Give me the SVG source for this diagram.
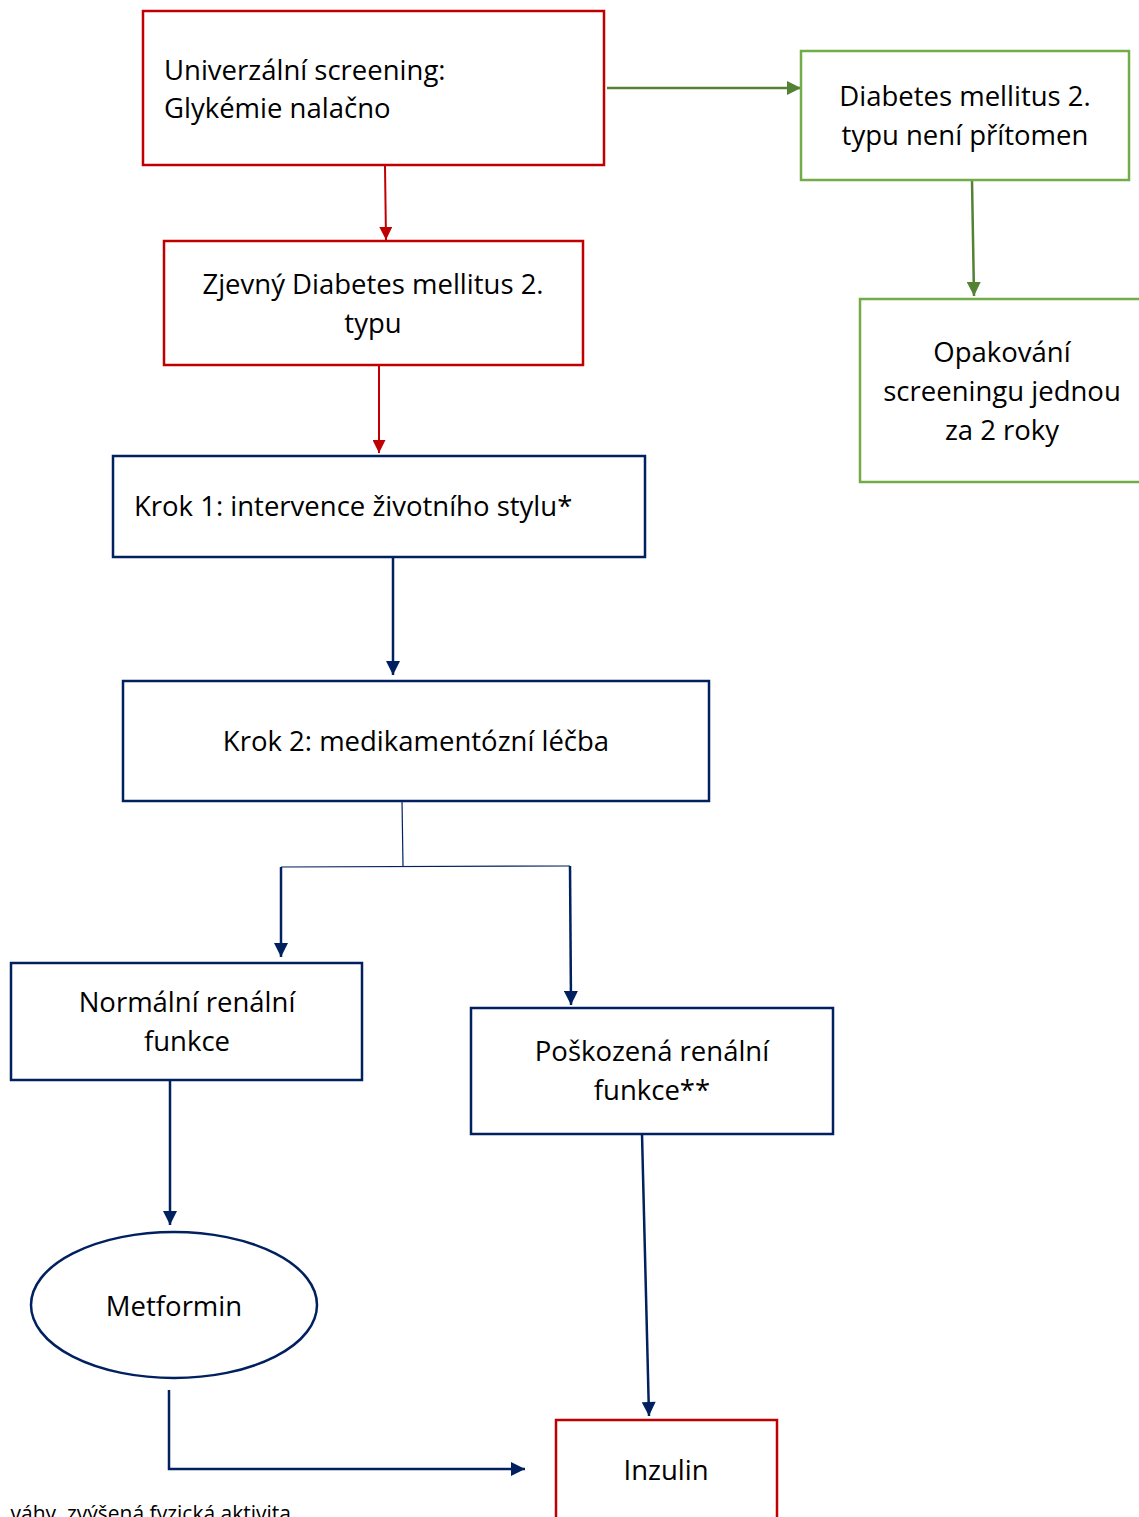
<svg xmlns="http://www.w3.org/2000/svg" width="1139" height="1517" viewBox="0 0 1139 1517">
<defs>
<marker id="ar" viewBox="0 0 10 10" refX="10" refY="5" markerWidth="13" markerHeight="13" markerUnits="userSpaceOnUse" orient="auto"><path d="M0,0 L10,5 L0,10 z" fill="#C00000"/></marker>
<marker id="ag" viewBox="0 0 10 10" refX="10" refY="5" markerWidth="14" markerHeight="14" markerUnits="userSpaceOnUse" orient="auto"><path d="M0,0 L10,5 L0,10 z" fill="#548235"/></marker>
<marker id="ab" viewBox="0 0 10 10" refX="10" refY="5" markerWidth="15" markerHeight="14" markerUnits="userSpaceOnUse" orient="auto"><path d="M0,0 L10,5 L0,10 z" fill="#002060"/></marker>
</defs>
<style>
text{font-family:"Open Sans","Noto Sans",sans-serif;font-size:27.5px;fill:#000}
.c{text-anchor:middle}
.red{fill:#fff;stroke:#C00000;stroke-width:2.5}
.grn{fill:#fff;stroke:#70AD47;stroke-width:2.5}
.blu{fill:#fff;stroke:#002060;stroke-width:2.5}
.lr{stroke:#C00000;stroke-width:2;fill:none}
.lg{stroke:#548235;stroke-width:2.5;fill:none}
.lb{stroke:#002060;stroke-width:2.5;fill:none}
.lt{stroke:#002060;stroke-width:1.2;fill:none}
</style>
<rect width="1139" height="1517" fill="#fff"/>
<g id="connectors">
<line class="lg" x1="607" y1="88" x2="801" y2="88" marker-end="url(#ag)"/>
<line class="lg" x1="972" y1="180" x2="974" y2="296" marker-end="url(#ag)"/>
<line class="lr" x1="385" y1="166" x2="386" y2="240" marker-end="url(#ar)"/>
<line class="lr" x1="379" y1="366" x2="379" y2="453" marker-end="url(#ar)"/>
<line class="lb" x1="393" y1="556" x2="393" y2="675" marker-end="url(#ab)"/>
<line class="lt" x1="402" y1="800" x2="403" y2="866"/>
<line class="lt" x1="281" y1="867" x2="570" y2="866"/>
<line class="lb" x1="281" y1="867" x2="281" y2="957" marker-end="url(#ab)"/>
<line class="lb" x1="570" y1="866" x2="571" y2="1005" marker-end="url(#ab)"/>
<line class="lb" x1="170" y1="1080" x2="170" y2="1225" marker-end="url(#ab)"/>
<path class="lb" d="M169,1390 L169,1469 L525,1469" marker-end="url(#ab)"/>
<line class="lb" x1="642" y1="1134" x2="649" y2="1416" marker-end="url(#ab)"/>
</g>
<g id="n1"><rect class="red" x="143" y="11" width="461" height="154"/>
<text x="164" y="80">Univerzální screening:</text><text x="164" y="118">Glykémie nalačno</text></g>
<g id="n2"><rect class="grn" x="801" y="51" width="328" height="129"/>
<text class="c" x="965" y="106">Diabetes mellitus 2.</text><text class="c" x="965" y="145">typu není přítomen</text></g>
<g id="n3"><rect class="grn" x="860" y="299" width="290" height="183"/>
<text class="c" x="1002" y="362">Opakování</text><text class="c" x="1002" y="401">screeningu jednou</text><text class="c" x="1002" y="440">za 2 roky</text></g>
<g id="n4"><rect class="red" x="164" y="241" width="419" height="124"/>
<text class="c" x="373" y="294">Zjevný Diabetes mellitus 2.</text><text class="c" x="373" y="333">typu</text></g>
<g id="n5"><rect class="blu" x="113" y="456" width="532" height="101"/>
<text x="134" y="516">Krok 1: intervence životního stylu*</text></g>
<g id="n6"><rect class="blu" x="123" y="681" width="586" height="120"/>
<text class="c" x="416" y="751">Krok 2: medikamentózní léčba</text></g>
<g id="n7"><rect class="blu" x="11" y="963" width="351" height="117"/>
<text class="c" x="187" y="1012">Normální renální</text><text class="c" x="187" y="1051">funkce</text></g>
<g id="n8"><rect class="blu" x="471" y="1008" width="362" height="126"/>
<text class="c" x="652" y="1061">Poškozená renální</text><text class="c" x="652" y="1100">funkce**</text></g>
<g id="n9"><ellipse class="blu" cx="174" cy="1305" rx="143" ry="73"/>
<text class="c" x="174" y="1316">Metformin</text></g>
<g id="n10"><rect class="red" x="556" y="1420" width="221" height="110"/>
<text class="c" x="666" y="1480">Inzulin</text></g>
<text x="291" y="1521" style="font-size:21px;text-anchor:end">váhy, zvýšená fyzická aktivita</text>
</svg>
